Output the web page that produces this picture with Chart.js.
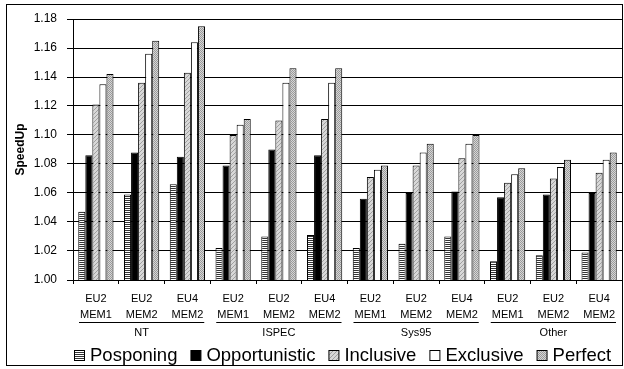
<!DOCTYPE html>
<html>
<head>
<meta charset="utf-8">
<script src="https://cdn.jsdelivr.net/npm/chart.js@4.4.1/dist/chart.umd.min.js"></script>
<style>
  html, body { margin: 0; padding: 0; background: #fff; }
  #wrap { width: 624px; height: 369px; position: relative; }
</style>
</head>
<body>
<div id="wrap"><canvas id="c" width="624" height="369"></canvas></div>
<script>
// ---- Data ----
const categories = [
  ["EU2", "MEM1"], ["EU2", "MEM2"], ["EU4", "MEM2"],
  ["EU2", "MEM1"], ["EU2", "MEM2"], ["EU4", "MEM2"],
  ["EU2", "MEM1"], ["EU2", "MEM2"], ["EU4", "MEM2"],
  ["EU2", "MEM1"], ["EU2", "MEM2"], ["EU4", "MEM2"]
];
const groups = ["NT", "ISPEC", "Sys95", "Other"];
const seriesNames = ["Posponing", "Opportunistic", "Inclusive", "Exclusive", "Perfect"];
const posponing     = [1.047, 1.059, 1.066, 1.022, 1.030, 1.031, 1.022, 1.025, 1.030, 1.013, 1.017, 1.019];
const opportunistic = [1.086, 1.088, 1.085, 1.079, 1.090, 1.086, 1.056, 1.060, 1.061, 1.057, 1.059, 1.060];
const inclusive     = [1.121, 1.136, 1.143, 1.100, 1.110, 1.111, 1.071, 1.079, 1.084, 1.067, 1.070, 1.074];
const exclusive     = [1.135, 1.156, 1.164, 1.107, 1.136, 1.136, 1.076, 1.088, 1.094, 1.073, 1.078, 1.083];
const perfect       = [1.142, 1.165, 1.175, 1.111, 1.146, 1.146, 1.079, 1.094, 1.100, 1.077, 1.083, 1.088];
const yTicks = [1.00, 1.02, 1.04, 1.06, 1.08, 1.10, 1.12, 1.14, 1.16, 1.18];

// ---- Patterns ----
function makePattern(kind) {
  const c = document.createElement('canvas');
  const x = c.getContext('2d');
  if (kind === 'hstripe') {
    c.width = 2; c.height = 2;
    x.fillStyle = '#fff'; x.fillRect(0, 0, 2, 2);
    x.fillStyle = '#333'; x.fillRect(0, 0, 2, 1);
  } else if (kind === 'diag') {
    c.width = 4; c.height = 4;
    x.fillStyle = '#d8d8d8'; x.fillRect(0, 0, 4, 4);
    x.fillStyle = '#a0a0a0';
    for (let i = 0; i < 4; i++) x.fillRect(i, 3 - i, 1, 1);
  } else if (kind === 'dots') {
    c.width = 2; c.height = 2;
    x.fillStyle = '#d6d6d6'; x.fillRect(0, 0, 2, 2);
    x.fillStyle = '#9a9a9a'; x.fillRect(0, 0, 1, 1); x.fillRect(1, 1, 1, 1);
  }
  return x.createPattern(c, 'repeat');
}
const fills = [makePattern('hstripe'), '#000000', makePattern('diag'), '#ffffff', makePattern('dots')];
const seriesData = [posponing, opportunistic, inclusive, exclusive, perfect];

const FONT = 'Arial, "Liberation Sans", sans-serif';

const groupPlugin = {
  id: 'groupPlugin',
  afterDraw(chart) {
    const ctx = chart.ctx;
    const xs = chart.scales.x;
    const half = (xs.getPixelForValue(1) - xs.getPixelForValue(0)) / 2;
    ctx.save();
    ctx.strokeStyle = '#000';
    ctx.lineWidth = 1;
    ctx.fillStyle = '#000';
    ctx.font = '11px ' + FONT;
    ctx.textAlign = 'center';
    ctx.textBaseline = 'middle';
    groups.forEach((g, i) => {
      const x1 = xs.getPixelForValue(i * 3) - half + 6;
      const x2 = xs.getPixelForValue(i * 3 + 2) + half - 6;
      ctx.beginPath();
      ctx.moveTo(x1, 322.5);
      ctx.lineTo(x2, 322.5);
      ctx.stroke();
      ctx.fillText(g, (x1 + x2) / 2, 333);
    });

    // legend (drawn from the chart's datasets)
    const ds = chart.data.datasets;
    const box = 10, gap = 6, spacing = 13;
    ctx.font = '18.5px ' + FONT;
    ctx.textAlign = 'left';
    let total = 0;
    const widths = ds.map(d => ctx.measureText(d.label).width);
    widths.forEach((w, i) => { total += box + gap + w + (i < widths.length - 1 ? spacing : 0); });
    let x = Math.round(342.5 - total / 2);
    const cy = 355;
    ds.forEach((d, i) => {
      ctx.fillStyle = d.backgroundColor;
      ctx.fillRect(x + 0.5, cy - 5 + 0.5, box, box);
      ctx.strokeStyle = '#000';
      ctx.strokeRect(x + 0.5, cy - 5 + 0.5, box, box);
      ctx.fillStyle = '#000';
      ctx.fillText(d.label, x + box + gap, cy + 1);
      x += box + gap + widths[i] + spacing;
    });

    // outer frame
    ctx.strokeStyle = '#000';
    ctx.strokeRect(6.5, 4.5, 616, 361);
    ctx.restore();
  }
};

new Chart(document.getElementById('c'), {
  type: 'bar',
  data: {
    labels: categories,
    datasets: seriesNames.map((n, i) => ({
      label: n,
      data: seriesData[i],
      backgroundColor: fills[i],
      borderColor: '#000',
      borderWidth: 1,
      borderSkipped: 'start',
      barPercentage: 1.0,
      categoryPercentage: 0.77
    }))
  },
  options: {
    responsive: false,
    animation: false,
    devicePixelRatio: 1,
    layout: { padding: { left: 10, right: 2, top: 19, bottom: 33 } },
    plugins: {
      legend: { display: false },
      tooltip: { enabled: false }
    },
    scales: {
      x: {
        offset: true,
        grid: { display: true, drawOnChartArea: false, drawTicks: true, tickLength: 4, color: '#000', offset: true },
        border: { display: true, color: '#000' },
        ticks: {
          color: '#000',
          font: { family: FONT, size: 11, lineHeight: '16px' },
          padding: 7,
          maxRotation: 0,
          autoSkip: false
        },
        afterFit(s) { s.height = 56; }
      },
      y: {
        min: 1.0,
        max: 1.18,
        afterBuildTicks(s) { s.ticks = yTicks.map(v => ({ value: v })); },
        grid: { color: '#000', tickLength: 6, drawTicks: true },
        border: { display: true, color: '#000' },
        ticks: {
          color: '#000',
          font: { family: FONT, size: 12 },
          padding: 10,
          callback: v => Number(v).toFixed(2)
        },
        title: {
          display: true,
          text: 'SpeedUp',
          color: '#000',
          font: { family: FONT, size: 12, weight: 'bold' },
          padding: { top: 3, bottom: 0 }
        },
        afterFit(s) { s.width = 63; }
      }
    }
  },
  plugins: [groupPlugin]
});
</script>
</body>
</html>
